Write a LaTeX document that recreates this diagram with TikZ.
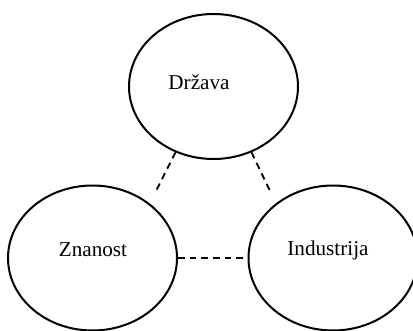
\documentclass[tikz,border=0pt]{standalone}
\usepackage{fontspec}
\setmainfont{Liberation Serif}
\usetikzlibrary{shapes.geometric}
\begin{document}
\begin{tikzpicture}
[
x=0.6pt, y=-0.6pt,
every node/.style={font=\fontsize{12.7}{15}\selectfont},
Sector/.style={ellipse, draw=black, line width=1.2pt, minimum width=101.4pt, minimum height=87pt, inner sep=0pt},
Label/.style={inner sep=0pt},
Link/.style={draw=black, line width=1.1pt, dash pattern=on 4pt off 3pt},
]

\useasboundingbox (0,0) rectangle (413,331);

\begin{scope}
\clip (0,0) rectangle (413,331);
\node[Sector] (drz) at (213.5,86.5) {};
\node[Sector] (zn)  at (92.5,258) {};
\node[Sector] (ind) at (333,258) {};
\end{scope}

\node[Label] (drzt) at (199,82) {Država};
\node[Label] (znt)  at (93,250) {Znanost};
\node[Label] (indt) at (328,250) {Industrija};

% free ends of the upper links
\coordinate (zntop)  at (155,193);
\coordinate (indtop) at (271,193);

\draw[Link] (drz.240) -- (zntop);
\draw[Link] (drz.300) -- (indtop);
\draw[Link] (zn.east) -- (ind.west);

\end{tikzpicture}
\end{document}
